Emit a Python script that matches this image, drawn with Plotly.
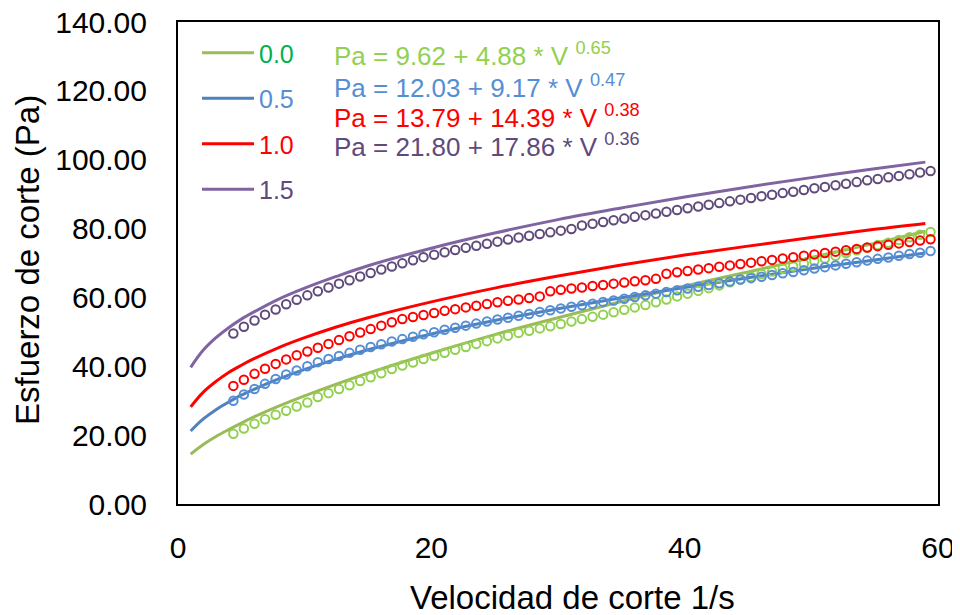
import plotly.graph_objects as go

# ---- data ----
series_names = ["0.0", "0.5", "1.0", "1.5"]

# fitted-model curves (read at these shear rates)
line_v = [1, 2, 3, 4, 5, 6, 8, 10, 12.5, 15, 20, 25, 30, 35, 40, 45, 50, 55, 59]
line_00 = [14.5, 17.3, 19.6, 21.6, 23.5, 25.3, 28.5, 31.4, 34.8, 38.0, 43.8, 49.2, 54.1, 58.8, 63.3, 67.4, 71.6, 75.7, 79.2]
line_05 = [21.2, 24.7, 27.4, 29.6, 31.6, 33.3, 36.4, 39.1, 42.1, 44.8, 49.4, 53.3, 56.7, 59.9, 62.9, 65.7, 68.4, 70.9, 72.9]
line_10 = [28.2, 32.5, 35.6, 38.2, 40.3, 42.2, 45.5, 48.3, 51.4, 54.1, 58.7, 62.7, 66.2, 69.4, 72.3, 74.9, 77.4, 79.8, 81.5]
line_15 = [39.7, 44.7, 48.3, 51.2, 53.7, 55.8, 59.6, 62.7, 66.1, 69.2, 74.3, 78.7, 82.6, 86.0, 89.2, 92.1, 94.8, 97.4, 99.3]

# measured points
meas_v = [4.37, 5.20, 6.04, 6.87, 7.71, 8.54, 9.37, 10.21, 11.04, 11.88,
          12.71, 13.54, 14.38, 15.21, 16.05, 16.88, 17.71, 18.55, 19.38, 20.22,
          21.05, 21.88, 22.72, 23.55, 24.39, 25.22, 26.05, 26.89, 27.72, 28.56,
          29.39, 30.22, 31.06, 31.89, 32.73, 33.56, 34.39, 35.23, 36.06, 36.90,
          37.73, 38.56, 39.40, 40.23, 41.07, 41.90, 42.73, 43.57, 44.40, 45.24,
          46.07, 46.90, 47.74, 48.57, 49.41, 50.24, 51.07, 51.91, 52.74, 53.58,
          54.41, 55.24, 56.08, 56.91, 57.75, 58.58, 59.41]
meas_00 = [20.4, 21.9, 23.3, 24.6, 25.9, 27.1, 28.3, 29.5, 31.1, 32.2,
           33.4, 34.5, 35.7, 36.8, 38.0, 39.2, 40.2, 41.1, 42.1, 43.0,
           43.9, 44.8, 45.6, 46.5, 47.3, 48.1, 48.9, 49.7, 50.3, 51.0,
           51.6, 52.3, 53.0, 53.7, 54.4, 55.0, 55.7, 56.4, 57.1, 57.8,
           58.6, 59.4, 60.3, 61.1, 61.9, 62.7, 63.5, 64.4, 65.2, 66.0,
           66.8, 67.5, 68.3, 69.0, 69.8, 70.6, 71.3, 72.1, 72.9, 73.7,
           74.4, 75.2, 75.9, 76.7, 77.5, 78.2, 79.0]
meas_05 = [30.0, 31.8, 33.4, 34.9, 36.3, 37.6, 38.8, 40.0, 41.2, 42.1,
           43.0, 43.9, 44.8, 45.6, 46.4, 47.2, 47.9, 48.6, 49.3, 49.9,
           50.6, 51.2, 51.8, 52.4, 53.0, 53.6, 54.1, 54.7, 55.2, 55.8,
           56.3, 56.8, 57.3, 57.7, 58.2, 58.7, 59.1, 59.6, 60.1, 60.6,
           61.1, 61.6, 62.1, 62.6, 63.1, 63.6, 64.1, 64.6, 65.2, 65.6,
           66.0, 66.5, 67.0, 67.4, 67.9, 68.4, 68.8, 69.3, 69.8, 70.2,
           70.7, 71.2, 71.6, 72.1, 72.6, 73.0, 73.5]
meas_10 = [34.3, 36.1, 37.8, 39.3, 40.7, 42.0, 43.2, 44.3, 45.4, 46.5,
           47.6, 48.7, 49.8, 50.8, 51.8, 52.8, 53.7, 54.3, 54.9, 55.5,
           56.1, 56.6, 57.1, 57.6, 58.1, 58.6, 59.0, 59.4, 59.8, 60.3,
           61.8, 62.2, 62.6, 62.9, 63.3, 63.6, 64.0, 64.3, 64.7, 65.0,
           65.4, 66.9, 67.3, 67.7, 68.1, 68.5, 68.9, 69.3, 69.7, 70.1,
           70.5, 70.9, 71.3, 71.7, 72.1, 72.5, 72.9, 73.3, 73.7, 74.1,
           74.5, 74.9, 75.3, 75.7, 76.1, 76.5, 76.9]
meas_15 = [49.5, 51.5, 53.3, 55.0, 56.5, 58.0, 59.3, 60.6, 61.8, 62.9,
           64.0, 65.0, 66.1, 67.1, 68.1, 69.0, 69.9, 70.8, 71.7, 72.4,
           73.1, 73.8, 74.4, 75.0, 75.6, 76.2, 76.8, 77.4, 77.9, 78.4,
           78.9, 79.4, 79.9, 80.9, 81.4, 81.9, 82.4, 82.9, 83.4, 83.9,
           84.4, 84.9, 85.4, 85.9, 86.4, 86.9, 87.4, 87.9, 88.4, 88.9,
           89.4, 89.8, 90.3, 90.7, 91.2, 91.7, 92.1, 92.6, 93.0, 93.5,
           94.0, 94.4, 94.9, 95.3, 95.8, 96.3, 96.7]

equations = [
    "Pa = 9.62 + 4.88 * V <sup>0.65</sup>",
    "Pa = 12.03 + 9.17 * V <sup>0.47</sup>",
    "Pa = 13.79 + 14.39 * V <sup>0.38</sup>",
    "Pa = 21.80 + 17.86 * V <sup>0.36</sup>",
]

y_ticks = [0, 20, 40, 60, 80, 100, 120, 140]
x_ticks = [0, 20, 40, 60]

# ---- styles ----
line_colors = ["#9BBB59", "#4F81BD", "#FF0000", "#8064A2"]
marker_colors = ["#92D050", "#558ED5", "#FF0000", "#604A7B"]
legend_text_colors = ["#00B050", "#558ED5", "#FF0000", "#604A7B"]
eq_colors = ["#92D050", "#558ED5", "#FF0000", "#604A7B"]
FONT = "Liberation Sans, Arial, sans-serif"

lines = [line_00, line_05, line_10, line_15]
meas = [meas_00, meas_05, meas_10, meas_15]

fig = go.Figure()
for i in range(4):
    fig.add_trace(go.Scatter(
        x=line_v, y=lines[i], mode="lines", line_shape="spline",
        line=dict(color=line_colors[i], width=3),
        name='<span style="color:%s">%s</span>' % (legend_text_colors[i], series_names[i]),
        legendgroup="g%d" % i, showlegend=True))
for i in range(4):
    fig.add_trace(go.Scatter(
        x=meas_v, y=meas[i], mode="markers",
        marker=dict(symbol="circle-open", size=8.5, color=marker_colors[i],
                    line=dict(width=2, color=marker_colors[i])),
        showlegend=False))

# The page body adds an 8 px offset; size the figure so it fills the 960x615 window.
OFF = 8
W, H = 960 - OFF, 615 - OFF
# plot-area edges in window pixels
PX_L, PX_R, PX_T, PX_B = 178, 938, 22, 504
L = PX_L - OFF
R = W - (PX_R - OFF)
T = PX_T - OFF
B = H - (PX_B - OFF)
pw = PX_R - PX_L
ph = PX_B - PX_T

def px_to_paper(xp, yp):
    return (xp - PX_L) / pw, (PX_B - yp) / ph

annotations = []
eq_y = [55, 87, 117, 145]
for i in range(4):
    ax, ay = px_to_paper(332, eq_y[i])
    annotations.append(dict(x=ax, y=ay, xref="paper", yref="paper", xanchor="left",
                            yanchor="middle", showarrow=False, text=equations[i],
                            font=dict(family=FONT, size=26, color=eq_colors[i])))
tx, ty = px_to_paper(572, 597)
annotations.append(dict(x=tx, y=ty, xref="paper", yref="paper", xanchor="center",
                        yanchor="middle", showarrow=False, text="Velocidad de corte 1/s",
                        font=dict(family=FONT, size=33, color="#000000")))
yx, yy = px_to_paper(27, 260)
annotations.append(dict(x=yx, y=yy, xref="paper", yref="paper", xanchor="center",
                        yanchor="middle", showarrow=False, text="Esfuerzo de corte (Pa)",
                        textangle=-90, font=dict(family=FONT, size=33, color="#000000")))

lx, ly = px_to_paper(197, 30)
fig.update_layout(
    width=W, height=H,
    margin=dict(l=L, r=R, t=T, b=B, autoexpand=False),
    paper_bgcolor="white", plot_bgcolor="white",
    font=dict(family=FONT, size=30, color="#000000"),
    showlegend=True,
    legend=dict(x=lx, y=ly, xanchor="left", yanchor="top", bgcolor="rgba(0,0,0,0)",
                font=dict(family=FONT, size=25), itemwidth=52, tracegroupgap=10,
                borderwidth=0),
    annotations=annotations,
    xaxis=dict(range=[0, 60], tickvals=x_ticks, ticktext=[str(v) for v in x_ticks],
               showgrid=False, zeroline=False, showline=True, mirror=True,
               linecolor="#000000", linewidth=2, ticks="outside", ticklen=16,
               tickcolor="rgba(0,0,0,0)", tickfont=dict(family=FONT, size=30),
               automargin=False, ticklabeloverflow="allow"),
    yaxis=dict(range=[0, 140], tickvals=y_ticks, ticktext=["%.2f" % v for v in y_ticks],
               showgrid=False, zeroline=False, showline=True, mirror=True,
               linecolor="#000000", linewidth=2, ticks="outside", ticklen=23,
               tickcolor="rgba(0,0,0,0)", tickfont=dict(family=FONT, size=30),
               automargin=False, ticklabeloverflow="allow"),
)

fig.write_html("out.html")
